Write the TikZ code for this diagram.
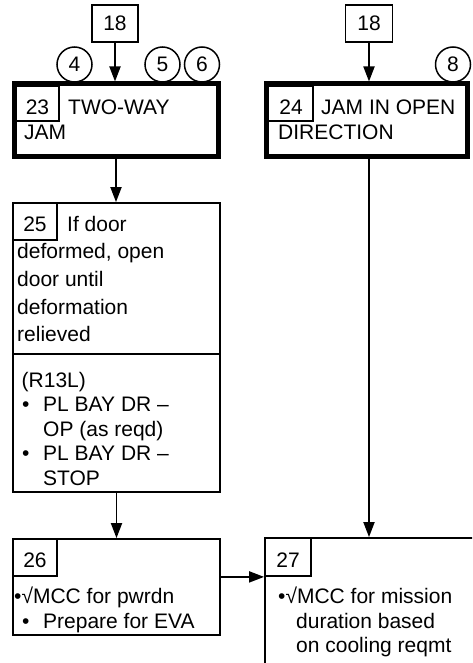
\documentclass[tikz,border=0pt]{standalone}
\usepackage{fontspec}
\setmainfont{Liberation Sans}
\usetikzlibrary{arrows.meta}
\tikzset{
  thinbox/.style={draw, line width=1.8pt, inner sep=0pt, rectangle},
  thickbox/.style={draw, line width=5pt, inner sep=0pt, rectangle},
  circ/.style={draw, circle, line width=1.5pt, minimum size=35pt, inner sep=0pt, font=\fontsize{21}{25}\selectfont},
  txt/.style={anchor=base west, inner sep=0pt, font=\fontsize{21}{25}\selectfont},
  num/.style={anchor=base, inner sep=0pt, font=\fontsize{21}{25}\selectfont},
  arr/.style={line width=1.8pt, -{Triangle[length=15pt,width=11pt]}},
  conn/.style={line width=1.8pt}
}
\begin{document}
\begin{tikzpicture}[x=1pt,y=-1pt]
\clip (0,0) rectangle (472,663);
\useasboundingbox (0,0) rectangle (472,663);
% top boxes 18
\node[thinbox, minimum width=46pt, minimum height=37pt, font=\fontsize{21}{25}\selectfont] (b18a) at (115,23.5) {18};
\node[thinbox, minimum width=47pt, minimum height=37pt, font=\fontsize{21}{25}\selectfont] (b18b) at (369,23.5) {18};
% circles
\node[circ] (c4) at (74.5,64.5) {4};
\node[circ] (c5) at (162.5,64.5) {5};
\node[circ] (c6) at (202,64.5) {6};
\node[circ] (c8) at (453,64.5) {8};
% box 23
\node[thickbox, minimum width=204pt, minimum height=73pt] (b23) at (116,120.5) {};
\node[thinbox, minimum width=43pt, minimum height=35pt] (n23) at (37.5,103.5) {};
\node[num] (t23) at (37.5,115) {23};
\node[txt] (t23a) at (68,115) {TWO-WAY};
\node[txt] (t23b) at (24,140) {JAM};
% box 24
\node[thickbox, minimum width=201pt, minimum height=73pt] (b24) at (366.5,120.5) {};
\node[thinbox, minimum width=45pt, minimum height=35pt] (n24) at (290.5,103.5) {};
\node[num] (t24) at (291,115) {24};
\node[txt] (t24a) at (321,115) {JAM IN OPEN};
\node[txt] (t24b) at (278,140) {DIRECTION};
% box 25
\node[thinbox, minimum width=207pt, minimum height=289pt] (b25) at (116.5,347.5) {};
\node[thinbox, minimum width=44pt, minimum height=37pt] (n25) at (35,221.5) {};
\node[num] (t25) at (35,231) {25};
\node[txt] (t25a) at (67,231) {If door};
\node[txt] (t25b) at (17,258.5) {deformed, open};
\node[txt] (t25c) at (17,286.5) {door until};
\node[txt] (t25d) at (17,314) {deformation};
\node[txt] (t25e) at (17,341.5) {relieved};
\coordinate (div) at (0,354);
\draw[conn] (b25.west |- div) -- (b25.east |- div);
\node[txt] (t25f) at (21.5,387) {(R13L)};
\node[txt] (t25g) at (22,411.5) {\makebox[21pt][l]{•}PL BAY DR –};
\node[txt] (t25h) at (43,436) {OP (as reqd)};
\node[txt] (t25i) at (22,460.5) {\makebox[21pt][l]{•}PL BAY DR –};
\node[txt] (t25j) at (43,485) {STOP};
% box 26
\node[thinbox, minimum width=207pt, minimum height=96pt] (b26) at (116.5,587) {};
\node[thinbox, minimum width=44pt, minimum height=37pt] (n26) at (35,557.5) {};
\node[num] (t26) at (35,567) {26};
\node[txt] (t26a) at (14,603) {•√MCC for pwrdn};
\node[txt] (t26b) at (22,628) {\makebox[21pt][l]{•}Prepare for EVA};
% box 27
\node[thinbox, minimum width=220pt, minimum height=162pt] (b27) at (375,619) {};
\node[thinbox, minimum width=46pt, minimum height=38pt] (n27) at (288,557) {};
\node[num] (t27) at (288,567) {27};
\node[txt] (t27a) at (278,603) {•√MCC for mission};
\node[txt] (t27b) at (296,628) {duration based};
\node[txt] (t27c) at (296,652) {on cooling reqmt};
% connectors
\draw[arr] (b18a.south) -- (b18a.south |- b23.north);
\draw[arr] (b18b.south) -- (b18b.south |- b24.north);
\draw[arr] (b23.south) -- (b23.south |- b25.north);
\draw[arr] (b18b.south |- b24.south) -- (b18b.south |- b27.north);
\draw[arr] (b25.south) -- (b25.south |- b26.north);
\draw[arr] (b26.east |- n26.south) -- (b27.west |- n26.south);
\end{tikzpicture}
\end{document}
